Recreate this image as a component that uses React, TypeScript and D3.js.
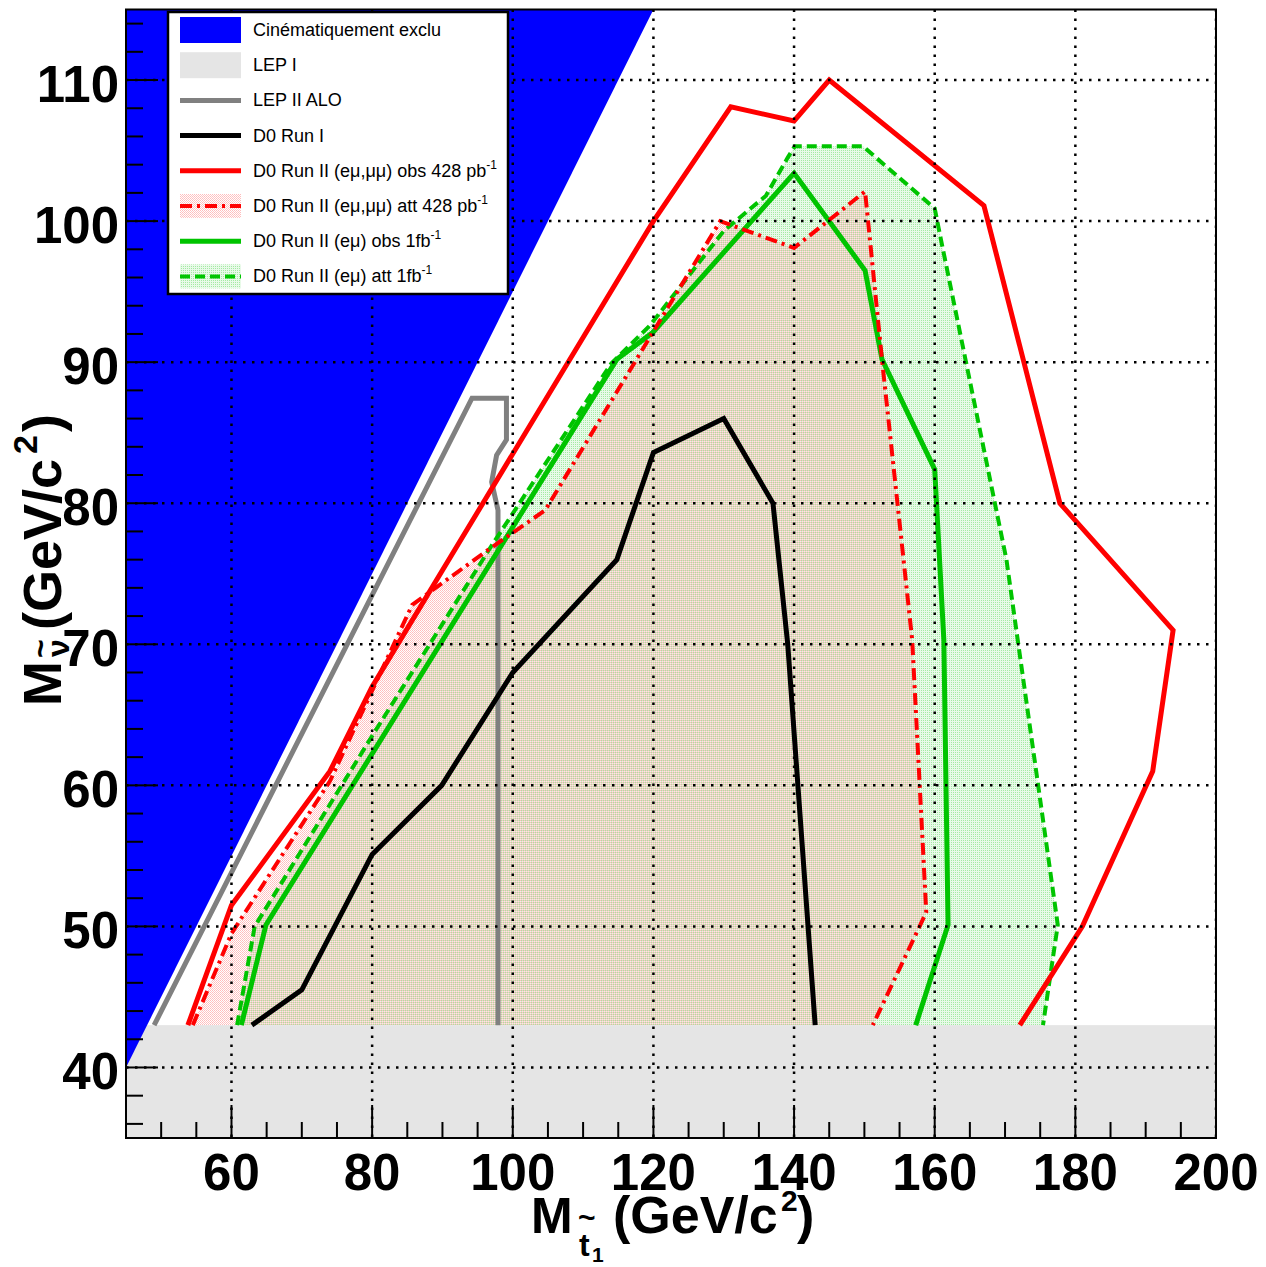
import React from "react";
import * as d3 from "d3";

const W = 1266;
const H = 1267;

// Axis ranges (GeV/c^2)
const xDomain = [45, 200];
const yDomain = [35, 115];
const xMajorTicks = [60, 80, 100, 120, 140, 160, 180, 200];
const yMajorTicks = [40, 50, 60, 70, 80, 90, 100, 110];
const xMinorTicks = d3.range(50, 200, 5).filter((v) => v % 20 !== 0);
const yMinorTicks = d3.range(36, 115, 2).filter((v) => v % 10 !== 0);

// LEP I limit on the sneutrino mass
const lep1Limit = 43;

// Kinematic limit: M(snu) > M(stop) - M(b)
const kinematicRegion = [
  [45, 40],
  [120, 115],
  [45, 115],
];

// Exclusion contours, points as [M(stop), M(snu)]
const lep2Alo = [
  [49, 43], [94.2, 87.45], [99.1, 87.45], [99.1, 84.5], [97.7, 83.4],
  [97.0, 81.5], [97.9, 79.5], [97.9, 43],
];
const d0Run1 = [
  [62.9, 43], [70, 45.5], [80, 55.1], [89.9, 60], [100, 68], [114.8, 76],
  [120, 83.6], [130, 86], [137, 80], [139.1, 70], [143, 43],
];
const run2ObsLL = [
  [53.8, 43], [60, 51.5], [74, 61], [80, 67], [120, 100], [131, 108.1],
  [140, 107.1], [145, 110], [167, 101.1], [177.8, 80], [193.9, 71],
  [191, 61], [181, 50], [172.1, 43],
];
const run2ExpLL = [
  [54.5, 43], [60, 49.5], [74, 60.3], [85.7, 72.8], [96.8, 76.8],
  [104.6, 79.5], [129.5, 100], [140, 98.1], [150.1, 102.1], [152.5, 90.2],
  [156.8, 70.3], [158.8, 51], [151.2, 43],
];
const run2ObsEmu = [
  [61.4, 43], [64.9, 50.1], [114.8, 90.2], [119.9, 92.1], [140, 103.4],
  [150.1, 96.5], [152.5, 90.2], [160, 82.4], [161.3, 70.3], [161.9, 50.1],
  [157.3, 43],
];
const run2ExpEmu = [
  [60.8, 43], [63.3, 50], [80, 63.5], [97, 77], [114, 89.9], [119.5, 92.6],
  [130, 99.3], [136, 101.8], [139.1, 104.5], [140.1, 105.3], [149.8, 105.3],
  [160, 100.9], [160.8, 98.9], [170.2, 76], [177.5, 50.1], [175.4, 43],
];

const legendLabels = [
  "Cinématiquement exclu",
  "LEP I",
  "LEP II ALO",
  "D0 Run I",
  "D0 Run II (eμ,μμ) obs 428 pb",
  "D0 Run II (eμ,μμ) att 428 pb",
  "D0 Run II (eμ) obs 1fb",
  "D0 Run II (eμ) att 1fb",
];
const legendSup = ["", "", "", "", "-1", "-1", "-1", "-1"];

const BLUE = "#0000ff";
const RED = "#ff0000";
const GREEN = "#00c400";
const GRAY = "#808080";
const BAND = "#e5e5e5";
const FONT = "'Liberation Sans', Arial, Helvetica, sans-serif";

export default function App() {
  const x = d3.scaleLinear().domain(xDomain).range([126, 1216]);
  const y = d3.scaleLinear().domain(yDomain).range([1138, 9.5]);
  const line = d3
    .line<number[]>()
    .x((d) => x(d[0]))
    .y((d) => y(d[1]));
  const area = (pts: number[][]) => line(pts) + "Z";

  const x0 = x(xDomain[0]);
  const x1 = x(xDomain[1]);
  const yTop = y(yDomain[1]);
  const yBot = y(yDomain[0]);

  const legendX = 168;
  const legendY = 12;
  const rowH = 35.2;
  const rowC = (i: number) => 30 + i * rowH;

  return (
    <svg
      width={W}
      height={H}
      viewBox={`0 0 ${W} ${H}`}
      style={{ position: "fixed", left: 0, top: 0, background: "#fff" }}
      fontFamily={FONT}
    >
      <defs>
        <clipPath id="plotClip">
          <rect x={x0} y={yTop} width={x1 - x0} height={yBot - yTop} />
        </clipPath>
        <pattern id="greenDots" width="2" height="2" patternUnits="userSpaceOnUse">
          <rect x="0" y="0" width="2" height="2" fill="#e8fae8" shapeRendering="crispEdges" />
          <rect x="1" y="0" width="1" height="1" fill="#a4eaa4" shapeRendering="crispEdges" />
        </pattern>
        <pattern id="pinkCheck" width="2" height="2" patternUnits="userSpaceOnUse">
          <rect x="0" y="0" width="1" height="1" fill="#ffbcbc" shapeRendering="crispEdges" />
          <rect x="1" y="1" width="1" height="1" fill="#ffc6c6" shapeRendering="crispEdges" />
        </pattern>
      </defs>

      <rect x={0} y={0} width={W} height={H} fill="#fff" />

      <g clipPath="url(#plotClip)">
        {/* expected-limit fills */}
        <path d={area(run2ExpEmu)} fill="url(#greenDots)" />
        <path d={area(run2ExpLL)} fill="url(#pinkCheck)" />

        {/* LEP I band */}
        <rect
          x={x0}
          y={y(lep1Limit)}
          width={x1 - x0}
          height={yBot - y(lep1Limit)}
          fill={BAND}
        />

        {/* kinematically forbidden region */}
        <path d={area(kinematicRegion)} fill={BLUE} />

        {/* contours */}
        <path d={line(lep2Alo) || ""} fill="none" stroke={GRAY} strokeWidth={5} />
        <path d={line(d0Run1) || ""} fill="none" stroke="#000" strokeWidth={5} />
        <path
          d={line(run2ExpEmu) || ""}
          fill="none"
          stroke={GREEN}
          strokeWidth={4}
          strokeDasharray="10,5"
        />
        <path d={line(run2ObsEmu) || ""} fill="none" stroke={GREEN} strokeWidth={5} />
        <path
          d={line(run2ExpLL) || ""}
          fill="none"
          stroke={RED}
          strokeWidth={4}
          strokeDasharray="12,5,3,5"
        />
        <path d={line(run2ObsLL) || ""} fill="none" stroke={RED} strokeWidth={5} />

        {/* grid */}
        {xMajorTicks.map((v) => (
          <line
            key={"gx" + v}
            x1={x(v)}
            x2={x(v)}
            y1={yTop}
            y2={yBot}
            stroke="#000"
            strokeWidth={2.5}
            strokeDasharray="2.5,6.5"
          />
        ))}
        {yMajorTicks.map((v) => (
          <line
            key={"gy" + v}
            x1={x0}
            x2={x1}
            y1={y(v)}
            y2={y(v)}
            stroke="#000"
            strokeWidth={2.5}
            strokeDasharray="2.5,6.5"
          />
        ))}
      </g>

      {/* ticks */}
      {xMajorTicks.map((v) => (
        <line key={"tx" + v} x1={x(v)} x2={x(v)} y1={yBot} y2={yBot - 33} stroke="#000" strokeWidth={2} />
      ))}
      {xMinorTicks.map((v) => (
        <line key={"tmx" + v} x1={x(v)} x2={x(v)} y1={yBot} y2={yBot - 16} stroke="#000" strokeWidth={2} />
      ))}
      {yMajorTicks.map((v) => (
        <line key={"ty" + v} x1={x0} x2={x0 + 32} y1={y(v)} y2={y(v)} stroke="#000" strokeWidth={2} />
      ))}
      {yMinorTicks.map((v) => (
        <line key={"tmy" + v} x1={x0} x2={x0 + 17} y1={y(v)} y2={y(v)} stroke="#000" strokeWidth={2} />
      ))}

      {/* frame */}
      <rect x={x0} y={yTop} width={x1 - x0} height={yBot - yTop} fill="none" stroke="#000" strokeWidth={2} />

      {/* tick labels */}
      {xMajorTicks.map((v) => (
        <text key={"lx" + v} x={x(v)} y={1190} textAnchor="middle" fontSize={51} fontWeight="bold">
          {v}
        </text>
      ))}
      {yMajorTicks.map((v) => (
        <text key={"ly" + v} x={119} y={y(v) + 22} textAnchor="end" fontSize={51} fontWeight="bold">
          {v}
        </text>
      ))}

      {/* x title: M_{~t_1} (GeV/c^2) */}
      <g fontWeight="bold" fill="#000">
        <text x={531} y={1233} fontSize={50}>M</text>
        <text x={578} y={1228} fontSize={30}>~</text>
        <text x={579} y={1256} fontSize={32}>t</text>
        <text x={592} y={1262} fontSize={21}>1</text>
        <text x={613} y={1233} fontSize={52}>(GeV/c</text>
        <text x={781} y={1211} fontSize={30}>2</text>
        <text x={797} y={1233} fontSize={52}>)</text>
      </g>

      {/* y title: M_{~nu} (GeV/c^2) */}
      <g fontWeight="bold" fill="#000" transform="translate(61,706) rotate(-90)">
        <text x={0} y={0} fontSize={54}>M</text>
        <text x={48} y={-10} fontSize={32}>~</text>
        <text x={49} y={8} fontSize={32}>ν</text>
        <text x={76} y={0} fontSize={54}>(GeV/c</text>
        <text x={252} y={-24} fontSize={34}>2</text>
        <text x={274} y={0} fontSize={54}>)</text>
      </g>

      {/* legend */}
      <g>
        <rect x={legendX} y={legendY} width={340} height={282} fill="#fff" stroke="#000" strokeWidth={2.5} />
        <rect x={180} y={rowC(0) - 13} width={61} height={26} fill={BLUE} />
        <rect x={180} y={rowC(1) - 13} width={61} height={26} fill={BAND} />
        <line x1={180} x2={241} y1={rowC(2)} y2={rowC(2)} stroke={GRAY} strokeWidth={5} />
        <line x1={180} x2={241} y1={rowC(3)} y2={rowC(3)} stroke="#000" strokeWidth={5} />
        <line x1={180} x2={241} y1={rowC(4)} y2={rowC(4)} stroke={RED} strokeWidth={5} />
        <rect x={180} y={rowC(5) - 12} width={61} height={24} fill="url(#pinkCheck)" />
        <line
          x1={180}
          x2={241}
          y1={rowC(5)}
          y2={rowC(5)}
          stroke={RED}
          strokeWidth={4}
          strokeDasharray="12,5,3,5"
        />
        <line x1={180} x2={241} y1={rowC(6)} y2={rowC(6)} stroke={GREEN} strokeWidth={5} />
        <rect x={180} y={rowC(7) - 12} width={61} height={24} fill="url(#greenDots)" />
        <line
          x1={180}
          x2={241}
          y1={rowC(7)}
          y2={rowC(7)}
          stroke={GREEN}
          strokeWidth={4}
          strokeDasharray="10,5"
        />
        {legendLabels.map((t, i) => (
          <text key={"lg" + i} x={253} y={rowC(i) + 6} fontSize={18} fill="#000">
            {t}
            {legendSup[i] ? (
              <tspan fontSize={12} dy={-8}>
                {legendSup[i]}
              </tspan>
            ) : null}
          </text>
        ))}
      </g>
    </svg>
  );
}
